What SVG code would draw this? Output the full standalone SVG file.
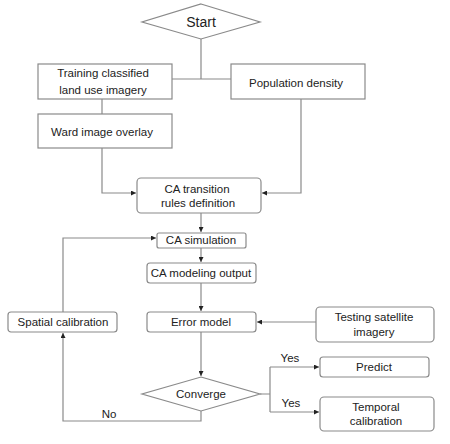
<svg xmlns="http://www.w3.org/2000/svg" width="450" height="444" viewBox="0 0 450 444">
<defs>
<style>
.box{fill:#fff;stroke:#8a8a8a;stroke-width:1.2}
.ln{fill:none;stroke:#8a8a8a;stroke-width:1.2}
.t{font-family:"Liberation Sans",Arial,sans-serif;font-size:11.5px;fill:#222;text-anchor:middle}
.big{font-size:14px}
</style>
<marker id="ah" viewBox="0 0 6 6" refX="6" refY="3" markerWidth="5" markerHeight="5" orient="auto" markerUnits="userSpaceOnUse">
<path d="M0,0 L6,3 L0,6 z" fill="#222"/>
</marker>
</defs>
<rect width="450" height="444" fill="#fff"/>
<g id="connectors">
<path class="ln" d="M201,39 V79 M172,79 H231"/>
<path class="ln" d="M102,99 V114"/>
<path class="ln" d="M102,148 V193 H136" marker-end="url(#ah)"/>
<path class="ln" d="M301,99 V193 H262" marker-end="url(#ah)"/>
<path class="ln" d="M201,213 V232" marker-end="url(#ah)"/>
<path class="ln" d="M201,248 V262" marker-end="url(#ah)"/>
<path class="ln" d="M201,283 V311" marker-end="url(#ah)"/>
<path class="ln" d="M316,322 H257" marker-end="url(#ah)"/>
<path class="ln" d="M201,332 V376" marker-end="url(#ah)"/>
<path class="ln" d="M63,312 V238 H156" marker-end="url(#ah)"/>
<path class="ln" d="M201,411 V421 H63 V333" marker-end="url(#ah)"/>
<path class="ln" d="M260,394 H270 M270,367 V412"/>
<path class="ln" d="M270,367 H319" marker-end="url(#ah)"/>
<path class="ln" d="M270,412 H319" marker-end="url(#ah)"/>
<text class="t" x="109" y="418">No</text>
<text class="t" x="290" y="362">Yes</text>
<text class="t" x="291" y="407">Yes</text>
</g>
<g id="start">
<polygon class="box" points="201,4 260,22 201,39 142,22"/>
<text class="t big" x="201" y="27">Start</text>
</g>
<g id="training">
<rect class="box" x="38" y="64" width="134" height="35"/>
<text class="t" x="103" y="77">Training classified</text>
<text class="t" x="103" y="94">land use imagery</text>
</g>
<g id="population">
<rect class="box" x="231" y="64" width="134" height="35"/>
<text class="t" x="296" y="87">Population density</text>
</g>
<g id="ward">
<rect class="box" x="38" y="114" width="134" height="34"/>
<text class="t" x="102" y="136">Ward image overlay</text>
</g>
<g id="transition">
<rect class="box" x="137" y="178" width="124" height="35" rx="4"/>
<text class="t" x="197" y="193">CA transition</text>
<text class="t" x="198" y="207">rules definition</text>
</g>
<g id="simulation">
<rect class="box" x="157" y="233" width="89" height="15" rx="2"/>
<text class="t" x="201" y="244">CA simulation</text>
</g>
<g id="output">
<rect class="box" x="147" y="263" width="109" height="20" rx="3"/>
<text class="t" x="201" y="277">CA modeling output</text>
</g>
<g id="error">
<rect class="box" x="147" y="312" width="109" height="20" rx="3"/>
<text class="t" x="201" y="326">Error model</text>
</g>
<g id="testing">
<rect class="box" x="316" y="307" width="118" height="35" rx="4"/>
<text class="t" x="374" y="321">Testing satellite</text>
<text class="t" x="374" y="336">imagery</text>
</g>
<g id="spatial">
<rect class="box" x="8" y="312" width="109" height="20" rx="3"/>
<text class="t" x="63" y="326">Spatial calibration</text>
</g>
<g id="converge">
<polygon class="box" points="201,377 260,394 201,411 142,394"/>
<text class="t" x="201" y="398">Converge</text>
</g>
<g id="predict">
<rect class="box" x="320" y="357" width="109" height="20" rx="3"/>
<text class="t" x="374" y="371">Predict</text>
</g>
<g id="temporal">
<rect class="box" x="320" y="397" width="114" height="34" rx="4"/>
<text class="t" x="376" y="411">Temporal</text>
<text class="t" x="376" y="425">calibration</text>
</g>
</svg>
